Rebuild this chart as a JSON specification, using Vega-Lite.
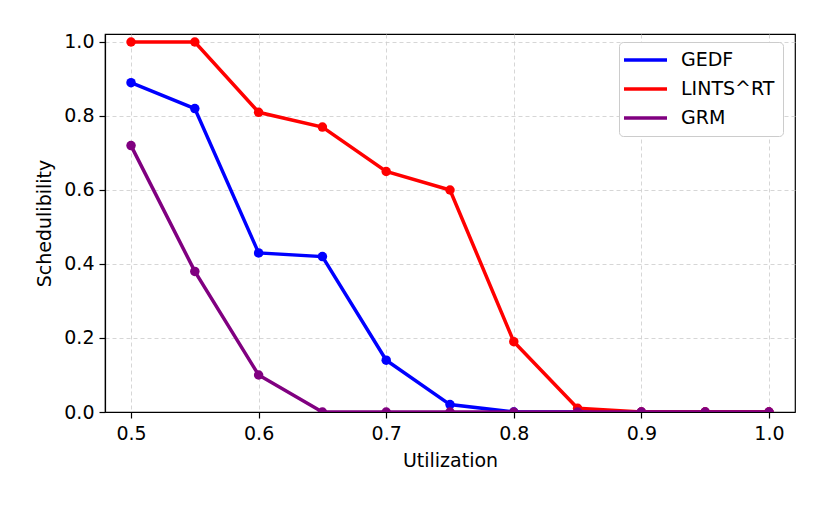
{
  "$schema": "https://vega.github.io/schema/vega-lite/v6.json",
  "width": 690,
  "height": 378,
  "autosize": {"type": "none"},
  "padding": {"left": 105, "top": 34, "right": 35, "bottom": 94},
  "background": "white",
  "config": {
    "font": "DejaVu Sans",
    "view": {"stroke": "black", "strokeWidth": 1.2},
    "axis": {
      "labelFont": "DejaVu Sans",
      "titleFont": "DejaVu Sans",
      "labelFontSize": 19,
      "titleFontSize": 19,
      "titleFontWeight": "normal",
      "labelColor": "black",
      "titleColor": "black",
      "domainColor": "black",
      "domainWidth": 1.2,
      "tickColor": "black",
      "tickSize": 6,
      "tickWidth": 1.2,
      "gridColor": "#cccccc",
      "gridDash": [4, 3],
      "gridWidth": 0.8
    }
  },
  "data": {
    "values": [
      {"u": 0.5, "s": 0.89, "algo": "GEDF"},
      {"u": 0.55, "s": 0.82, "algo": "GEDF"},
      {"u": 0.6, "s": 0.43, "algo": "GEDF"},
      {"u": 0.65, "s": 0.42, "algo": "GEDF"},
      {"u": 0.7, "s": 0.14, "algo": "GEDF"},
      {"u": 0.75, "s": 0.02, "algo": "GEDF"},
      {"u": 0.8, "s": 0.0, "algo": "GEDF"},
      {"u": 0.85, "s": 0.0, "algo": "GEDF"},
      {"u": 0.9, "s": 0.0, "algo": "GEDF"},
      {"u": 0.95, "s": 0.0, "algo": "GEDF"},
      {"u": 1.0, "s": 0.0, "algo": "GEDF"},
      {"u": 0.5, "s": 1.0, "algo": "LINTS^RT"},
      {"u": 0.55, "s": 1.0, "algo": "LINTS^RT"},
      {"u": 0.6, "s": 0.81, "algo": "LINTS^RT"},
      {"u": 0.65, "s": 0.77, "algo": "LINTS^RT"},
      {"u": 0.7, "s": 0.65, "algo": "LINTS^RT"},
      {"u": 0.75, "s": 0.6, "algo": "LINTS^RT"},
      {"u": 0.8, "s": 0.19, "algo": "LINTS^RT"},
      {"u": 0.85, "s": 0.01, "algo": "LINTS^RT"},
      {"u": 0.9, "s": 0.0, "algo": "LINTS^RT"},
      {"u": 0.95, "s": 0.0, "algo": "LINTS^RT"},
      {"u": 1.0, "s": 0.0, "algo": "LINTS^RT"},
      {"u": 0.5, "s": 0.72, "algo": "GRM"},
      {"u": 0.55, "s": 0.38, "algo": "GRM"},
      {"u": 0.6, "s": 0.1, "algo": "GRM"},
      {"u": 0.65, "s": 0.0, "algo": "GRM"},
      {"u": 0.7, "s": 0.0, "algo": "GRM"},
      {"u": 0.75, "s": 0.0, "algo": "GRM"},
      {"u": 0.8, "s": 0.0, "algo": "GRM"},
      {"u": 0.85, "s": 0.0, "algo": "GRM"},
      {"u": 0.9, "s": 0.0, "algo": "GRM"},
      {"u": 0.95, "s": 0.0, "algo": "GRM"},
      {"u": 1.0, "s": 0.0, "algo": "GRM"}
    ]
  },
  "encoding": {
    "x": {
      "field": "u",
      "type": "quantitative",
      "title": "Utilization",
      "scale": {"domain": [0.4796, 1.0204], "nice": false, "zero": false},
      "axis": {
        "values": [0.5, 0.6, 0.7, 0.8, 0.9, 1.0],
        "format": ".1f",
        "labelPadding": 6,
        "titlePadding": 8
      }
    },
    "y": {
      "field": "s",
      "type": "quantitative",
      "title": "Schedulibility",
      "scale": {"domain": [0, 1.0216], "nice": false},
      "axis": {
        "values": [0, 0.2, 0.4, 0.6, 0.8, 1.0],
        "format": ".1f",
        "labelPadding": 5,
        "titlePadding": 9
      }
    },
    "color": {
      "field": "algo",
      "type": "nominal",
      "scale": {
        "domain": ["GEDF", "LINTS^RT", "GRM"],
        "range": ["#0000ff", "#ff0000", "#800080"]
      }
    }
  },
  "layer": [
    {
      "mark": {"type": "line", "strokeWidth": 3.5, "clip": true},
      "encoding": {
        "color": {
          "field": "algo",
          "type": "nominal",
          "scale": {
            "domain": ["GEDF", "LINTS^RT", "GRM"],
            "range": ["#0000ff", "#ff0000", "#800080"]
          },
          "legend": {
            "title": null,
            "orient": "none",
            "legendX": 514,
            "legendY": 8,
            "padding": 8,
            "fillColor": "white",
            "strokeColor": "#cccccc",
            "cornerRadius": 4,
            "labelFont": "DejaVu Sans",
            "labelFontSize": 19,
            "labelColor": "black",
            "symbolType": "M-1.625,0H3.75",
            "symbolSize": 256,
            "symbolStrokeWidth": 3.5,
            "labelOffset": 34,
            "rowPadding": 9
          }
        }
      }
    },
    {
      "mark": {"type": "circle", "size": 90, "opacity": 1, "clip": true},
      "encoding": {
        "color": {"field": "algo", "type": "nominal", "legend": null}
      }
    }
  ]
}
